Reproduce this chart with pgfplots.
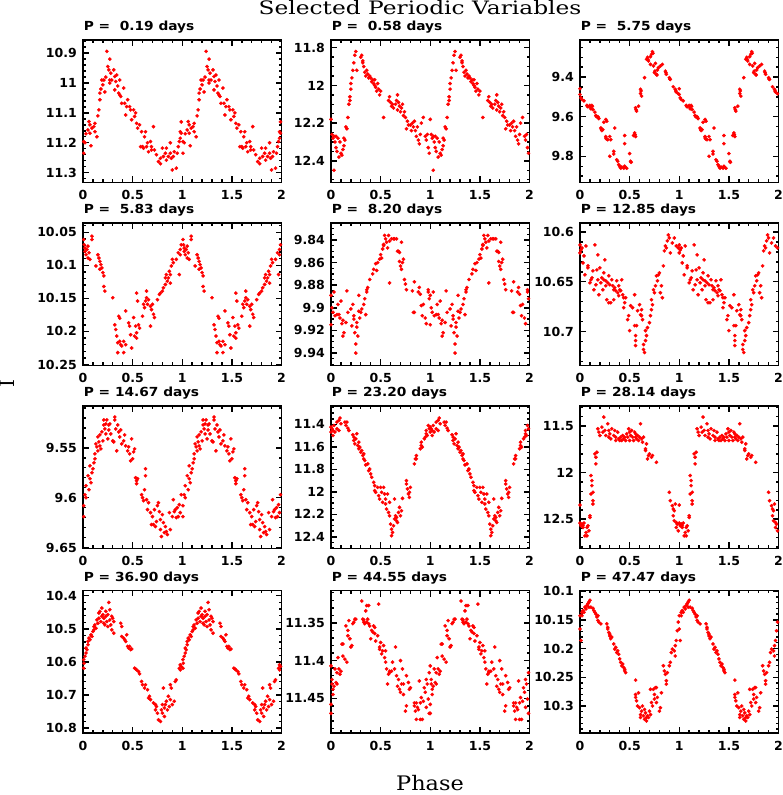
\documentclass[border=0pt]{standalone}
\usepackage{pgfplots}
\pgfplotsset{compat=1.18}
\usepackage{pgfplotstable}
\usepackage{fontspec}
\newfontfamily\dvs{DejaVu Sans}
\newfontfamily\dvserif{DejaVu Serif}
\newcommand\tlf{\dvs\bfseries\fontsize{12.5}{14}\selectfont}

\pgfplotsset{panel/.style={
  scale only axis, width=198.5pt, height=142.5pt, anchor=south west,
  xmin=0, xmax=2, y dir=reverse, scaled ticks=false,
  xtick={0,0.5,1,1.5,2}, minor xtick={0,0.1,...,2},
  tick align=inside, major tick length=6pt, minor tick length=3pt,
  line width=1.7pt,
  axis line style={line width=1.7pt},
  major tick style={line width=1.4pt,black}, minor tick style={line width=1.4pt,black},
  /pgf/number format/assume math mode=true,
  tick label style={font=\tlf},
  xticklabel style={yshift=-4pt},
  yticklabel style={xshift=-2pt},
  title style={at={(0,1)}, anchor=base west, yshift=3pt, inner sep=0pt, font=\tlf},
  clip=true,
},
dots/.style={only marks, mark=*, mark size=1.7pt, color=red, line width=0.3pt, mark options={fill=red,draw=red,line width=0.3pt}}}

\pgfplotstableread{
x y
0.007 11.196
0.007 11.235
0.02 11.20
0.03 11.17
0.05 11.157
0.06 11.129
0.07 11.14
0.07 11.168
0.08 11.21
0.09 11.151
0.11 11.146
0.12 11.163
0.12 11.135
0.14 11.18
0.15 11.11
0.16 11.09
0.17 11.056
0.17 11.034
0.18 11.02
0.19 10.99
0.20 11.006
0.21 10.99
0.22 11.03
0.23 10.98
0.24 10.894
0.25 10.945
0.26 10.956
0.27 10.99
0.27 10.92
0.27 11.0
0.28 10.967
0.29 10.99
0.31 10.956
0.32 10.978
0.32 11.023
0.33 10.995
0.34 10.973
0.35 11.01
0.36 11.034
0.37 10.99
0.37 11.04
0.38 11.045
0.39 11.068
0.41 11.017
0.42 11.068
0.43 11.107
0.44 11.079
0.45 11.056
0.47 11.079
0.48 11.09
0.49 11.123
0.51 11.09
0.52 11.112
0.53 11.10
0.54 11.135
0.55 11.151
0.57 11.14
0.58 11.213
0.59 11.163
0.60 11.213
0.61 11.218
0.62 11.18
0.63 11.163
0.64 11.213
0.65 11.20
0.66 11.23
0.68 11.196
0.69 11.213
0.69 11.224
0.71 11.146
0.72 11.224
0.74 11.24
0.76 11.263
0.78 11.252
0.78 11.27
0.80 11.218
0.81 11.246
0.83 11.235
0.84 11.258
0.84 11.218
0.86 11.246
0.88 11.20
0.88 11.235
0.89 11.252
0.90 11.291
0.91 11.246
0.92 11.23
0.94 11.285
0.95 11.235
0.96 11.213
0.97 11.196
0.98 11.185
0.98 11.163
0.99 11.168
0.99 11.13
}\tA

\pgfplotstableread{
x y
0.00 12.18
0.01 12.26
0.02 12.28
0.03 12.45
0.03 12.27
0.04 12.30
0.05 12.33
0.05 12.27
0.06 12.35
0.07 12.28
0.08 12.38
0.09 12.30
0.10 12.36
0.11 12.37
0.12 12.34
0.13 12.32
0.13 12.28
0.14 12.29
0.15 12.22
0.16 12.23
0.17 12.17
0.18 12.10
0.19 12.08
0.19 12.06
0.20 12.02
0.20 11.99
0.21 11.96
0.22 11.92
0.23 11.88
0.24 11.84
0.25 11.82
0.26 11.92
0.30 11.85
0.31 11.84
0.32 11.87
0.32 11.88
0.33 11.90
0.34 11.93
0.35 11.95
0.36 11.92
0.37 11.94
0.38 11.96
0.39 11.95
0.40 11.96
0.41 11.98
0.42 11.97
0.43 11.99
0.44 12.00
0.44 11.97
0.45 12.01
0.46 12.03
0.47 11.99
0.48 12.02
0.49 12.05
0.50 12.03
0.53 12.17
0.58 12.08
0.59 12.06
0.60 12.09
0.61 12.11
0.62 12.10
0.63 12.12
0.65 12.10
0.66 12.08
0.67 12.05
0.67 12.13
0.68 12.09
0.69 12.11
0.70 12.14
0.71 12.12
0.72 12.10
0.73 12.16
0.74 12.14
0.75 12.17
0.76 12.23
0.77 12.19
0.78 12.21
0.80 12.21
0.81 12.24
0.82 12.20
0.83 12.22
0.84 12.19
0.85 12.24
0.86 12.27
0.87 12.22
0.88 12.29
0.89 12.31
0.90 12.26
0.91 12.20
0.93 12.17
0.95 12.27
0.96 12.29
0.97 12.26
0.98 12.33
0.99 12.36
}\tB

\pgfplotstableread{
x y
0.00 9.459
0.00 9.488
0.01 9.505
0.02 9.513
0.04 9.52
0.07 9.543
0.075 9.548
0.08 9.55
0.10 9.543
0.105 9.55
0.11 9.56
0.12 9.543
0.125 9.548
0.13 9.564
0.15 9.577
0.16 9.594
0.165 9.60
0.18 9.60
0.185 9.606
0.19 9.61
0.21 9.657
0.215 9.663
0.22 9.67
0.23 9.665
0.24 9.628
0.26 9.614
0.27 9.623
0.26 9.70
0.265 9.712
0.26 9.707
0.28 9.716
0.30 9.70
0.31 9.716
0.30 9.80
0.34 9.775
0.35 9.657
0.34 9.788
0.37 9.817
0.38 9.825
0.39 9.842
0.40 9.85
0.405 9.855
0.41 9.86
0.42 9.854
0.44 9.86
0.45 9.695
0.45 9.736
0.45 9.85
0.455 9.855
0.47 9.86
0.50 9.786
0.51 9.825
0.515 9.83
0.54 9.695
0.55 9.682
0.555 9.69
0.56 9.70
0.56 9.555
0.565 9.565
0.57 9.572
0.59 9.547
0.61 9.483
0.615 9.47
0.61 9.462
0.62 9.496
0.65 9.403
0.67 9.31
0.68 9.30
0.685 9.31
0.69 9.319
0.71 9.297
0.71 9.336
0.72 9.285
0.73 9.272
0.735 9.28
0.74 9.344
0.75 9.378
0.755 9.37
0.76 9.331
0.77 9.386
0.775 9.39
0.78 9.364
0.79 9.353
0.81 9.344
0.83 9.336
0.86 9.37
0.865 9.378
0.87 9.386
0.90 9.403
0.905 9.41
0.91 9.412
0.94 9.449
0.96 9.462
0.965 9.47
0.97 9.476
0.99 9.484
}\tC

\pgfplotstableread{
x y
0.007 10.061
0.013 10.069
0.02 10.079
0.02 10.074
0.03 10.084
0.04 10.076
0.05 10.089
0.05 10.071
0.06 10.081
0.07 10.091
0.09 10.056
0.09 10.061
0.13 10.101
0.15 10.084
0.16 10.089
0.17 10.094
0.17 10.106
0.18 10.099
0.19 10.104
0.20 10.111
0.21 10.116
0.21 10.132
0.22 10.139
0.30 10.149
0.36 10.177
0.32 10.19
0.33 10.197
0.34 10.207
0.35 10.217
0.35 10.232
0.37 10.215
0.37 10.18
0.38 10.22
0.39 10.222
0.41 10.232
0.41 10.215
0.43 10.22
0.43 10.169
0.46 10.187
0.47 10.192
0.48 10.205
0.49 10.225
0.51 10.179
0.52 10.207
0.53 10.192
0.54 10.202
0.54 10.21
0.56 10.19
0.57 10.195
0.54 10.142
0.55 10.154
0.60 10.177
0.61 10.159
0.62 10.164
0.63 10.154
0.64 10.149
0.64 10.139
0.65 10.159
0.66 10.152
0.68 10.162
0.68 10.192
0.69 10.167
0.70 10.159
0.71 10.174
0.72 10.179
0.75 10.152
0.77 10.144
0.78 10.142
0.80 10.139
0.81 10.134
0.83 10.129
0.83 10.119
0.84 10.114
0.85 10.124
0.86 10.119
0.87 10.109
0.88 10.127
0.88 10.114
0.89 10.101
0.90 10.091
0.91 10.096
0.94 10.091
0.96 10.081
0.97 10.114
0.98 10.084
0.98 10.076
0.99 10.069
}\tD

\pgfplotstableread{
x y
0.00 9.889
0.00 9.915
0.01 9.90
0.02 9.904
0.03 9.886
0.04 9.907
0.06 9.906
0.07 9.897
0.08 9.906
0.09 9.909
0.10 9.894
0.11 9.914
0.12 9.925
0.12 9.911
0.13 9.922
0.15 9.913
0.16 9.885
0.17 9.904
0.20 9.901
0.21 9.916
0.23 9.907
0.22 9.897
0.23 9.91
0.24 9.922
0.25 9.932
0.25 9.94
0.26 9.913
0.26 9.917
0.27 9.925
0.28 9.889
0.28 9.903
0.29 9.909
0.30 9.904
0.31 9.901
0.33 9.897
0.34 9.892
0.35 9.906
0.36 9.884
0.36 9.886
0.37 9.882
0.39 9.875
0.42 9.87
0.43 9.866
0.45 9.861
0.46 9.867
0.47 9.86
0.49 9.857
0.50 9.853
0.51 9.856
0.52 9.848
0.53 9.845
0.53 9.844
0.54 9.836
0.55 9.839
0.56 9.842
0.57 9.847
0.58 9.836
0.59 9.878
0.59 9.841
0.61 9.839
0.63 9.839
0.64 9.839
0.66 9.839
0.67 9.85
0.68 9.85
0.69 9.851
0.69 9.859
0.70 9.863
0.71 9.866
0.71 9.842
0.72 9.86
0.73 9.857
0.74 9.875
0.75 9.879
0.76 9.884
0.84 9.877
0.82 9.885
0.83 9.904
0.84 9.904
0.88 9.886
0.89 9.882
0.90 9.888
0.91 9.898
0.92 9.907
0.93 9.897
0.95 9.909
0.96 9.914
0.98 9.884
0.98 9.886
0.99 9.892
}\tE

\pgfplotstableread{
x y
0.00 10.613
0.00 10.621
0.01 10.618
0.02 10.616
0.03 10.631
0.04 10.624
0.05 10.643
0.06 10.614
0.08 10.634
0.08 10.636
0.10 10.651
0.11 10.648
0.12 10.646
0.13 10.639
0.14 10.658
0.15 10.613
0.16 10.653
0.17 10.638
0.18 10.648
0.18 10.623
0.19 10.663
0.20 10.636
0.21 10.651
0.22 10.646
0.23 10.658
0.24 10.648
0.24 10.641
0.25 10.628
0.26 10.654
0.26 10.649
0.27 10.668
0.28 10.651
0.29 10.671
0.29 10.644
0.30 10.653
0.31 10.671
0.32 10.648
0.33 10.654
0.34 10.658
0.34 10.668
0.35 10.656
0.36 10.659
0.37 10.649
0.38 10.661
0.39 10.654
0.39 10.664
0.40 10.658
0.41 10.659
0.42 10.648
0.43 10.663
0.44 10.666
0.44 10.676
0.45 10.671
0.46 10.666
0.48 10.688
0.49 10.684
0.50 10.699
0.51 10.674
0.53 10.676
0.55 10.694
0.55 10.663
0.56 10.704
0.56 10.714
0.56 10.709
0.57 10.694
0.58 10.679
0.60 10.673
0.61 10.683
0.62 10.678
0.62 10.684
0.63 10.688
0.64 10.713
0.64 10.718
0.65 10.721
0.66 10.709
0.66 10.699
0.67 10.704
0.68 10.696
0.70 10.691
0.71 10.684
0.72 10.678
0.72 10.668
0.73 10.673
0.74 10.658
0.75 10.661
0.76 10.654
0.77 10.644
0.78 10.649
0.79 10.643
0.80 10.641
0.81 10.661
0.82 10.654
0.83 10.666
0.84 10.634
0.85 10.619
0.86 10.614
0.87 10.616
0.88 10.609
0.89 10.603
0.90 10.606
0.91 10.621
0.93 10.611
0.95 10.606
0.97 10.614
0.99 10.616
}\tF

\pgfplotstableread{
x y
0.007 9.608
0.007 9.619
0.02 9.597
0.03 9.60
0.03 9.588
0.05 9.578
0.06 9.592
0.07 9.581
0.07 9.568
0.08 9.585
0.09 9.575
0.10 9.571
0.11 9.565
0.12 9.561
0.12 9.556
0.13 9.546
0.14 9.549
0.15 9.539
0.15 9.553
0.16 9.544
0.17 9.548
0.17 9.537
0.18 9.551
0.19 9.534
0.20 9.543
0.21 9.527
0.21 9.522
0.22 9.531
0.23 9.536
0.23 9.526
0.24 9.522
0.25 9.541
0.26 9.527
0.26 9.532
0.27 9.526
0.28 9.536
0.30 9.543
0.31 9.544
0.32 9.519
0.32 9.522
0.33 9.531
0.34 9.553
0.35 9.527
0.36 9.534
0.37 9.539
0.38 9.532
0.39 9.546
0.41 9.543
0.42 9.537
0.43 9.548
0.45 9.553
0.46 9.549
0.47 9.556
0.48 9.563
0.49 9.541
0.50 9.561
0.51 9.554
0.52 9.551
0.53 9.58
0.54 9.583
0.54 9.586
0.55 9.581
0.59 9.597
0.60 9.60
0.61 9.603
0.62 9.592
0.63 9.571
0.63 9.578
0.64 9.602
0.65 9.612
0.66 9.605
0.68 9.615
0.69 9.627
0.70 9.619
0.71 9.627
0.72 9.612
0.73 9.629
0.74 9.624
0.75 9.608
0.76 9.605
0.77 9.614
0.78 9.622
0.78 9.632
0.79 9.639
0.80 9.617
0.81 9.625
0.82 9.635
0.83 9.629
0.84 9.634
0.85 9.637
0.87 9.615
0.88 9.632
0.90 9.619
0.92 9.614
0.91 9.602
0.93 9.612
0.94 9.62
0.95 9.61
0.96 9.619
0.97 9.607
0.98 9.615
0.99 9.597
}\tG

\pgfplotstableread{
x y
0.00 11.424
0.00 11.468
0.01 11.439
0.02 11.498
0.02 11.454
0.03 11.409
0.04 11.468
0.06 11.379
0.06 11.439
0.08 11.454
0.08 11.364
0.09 11.343
0.10 11.394
0.14 11.379
0.15 11.409
0.16 11.379
0.17 11.433
0.18 11.454
0.22 11.492
0.23 11.513
0.23 11.543
0.24 11.573
0.25 11.528
0.26 11.483
0.27 11.588
0.28 11.617
0.28 11.558
0.29 11.602
0.30 11.647
0.31 11.632
0.32 11.677
0.33 11.707
0.33 11.662
0.34 11.721
0.35 11.76
0.37 11.751
0.38 11.811
0.39 11.796
0.40 11.84
0.41 11.87
0.43 11.915
0.44 11.945
0.44 11.989
0.45 12.004
0.47 11.96
0.48 12.034
0.49 12.064
0.50 11.96
0.51 12.004
0.52 12.093
0.53 11.96
0.54 12.019
0.55 12.064
0.55 12.108
0.56 12.153
0.57 12.019
0.58 12.183
0.59 12.093
0.59 12.213
0.60 12.287
0.61 12.332
0.61 12.39
0.62 12.361
0.63 12.302
0.64 12.242
0.64 12.064
0.65 12.213
0.66 12.257
0.66 12.227
0.67 12.272
0.68 12.183
0.69 12.138
0.70 12.213
0.71 12.168
0.72 12.058
0.76 11.90
0.76 11.93
0.77 11.974
0.78 12.019
0.79 12.004
0.79 12.049
0.80 11.96
0.84 11.751
0.85 11.707
0.86 11.707
0.86 11.677
0.90 11.617
0.91 11.588
0.91 11.558
0.92 11.602
0.94 11.528
0.95 11.513
0.96 11.483
0.96 11.454
0.97 11.498
0.98 11.409
0.99 11.439
}\tH

\pgfplotstableread{
x y
0.00 12.349
0.00 12.543
0.01 12.572
0.02 12.554
0.03 12.59
0.03 12.572
0.04 12.543
0.05 12.68
0.06 12.644
0.07 12.59
0.07 12.68
0.08 12.572
0.09 12.626
0.10 12.482
0.10 12.464
0.11 12.23
0.11 12.032
0.12 12.086
0.12 12.14
0.13 12.212
0.13 12.302
0.13 12.338
0.15 11.799
0.16 11.835
0.16 11.906
0.17 11.781
0.18 11.529
0.19 11.565
0.20 11.601
0.22 11.511
0.23 11.565
0.24 11.403
0.25 11.547
0.26 11.601
0.28 11.475
0.29 11.619
0.29 11.547
0.30 11.583
0.31 11.637
0.32 11.529
0.34 11.601
0.35 11.547
0.36 11.655
0.36 11.619
0.38 11.565
0.39 11.637
0.40 11.655
0.41 11.619
0.42 11.655
0.43 11.601
0.44 11.637
0.45 11.619
0.46 11.655
0.47 11.583
0.48 11.619
0.49 11.529
0.50 11.565
0.50 11.655
0.51 11.601
0.52 11.547
0.53 11.619
0.54 11.655
0.55 11.565
0.56 11.619
0.56 11.583
0.57 11.637
0.58 11.601
0.59 11.655
0.60 11.619
0.61 11.475
0.62 11.637
0.63 11.673
0.64 11.619
0.66 11.745
0.66 11.763
0.67 11.691
0.68 11.853
0.69 11.817
0.70 11.799
0.72 11.835
0.73 11.817
0.77 11.889
0.90 12.212
0.91 12.302
0.93 12.356
0.94 12.392
0.95 12.41
0.96 12.338
0.94 12.464
0.95 12.518
0.97 12.536
0.97 12.59
0.98 12.554
0.99 12.626
}\tI

\pgfplotstableread{
x y
0.007 10.593
0.007 10.619
0.01 10.604
0.02 10.583
0.03 10.573
0.03 10.558
0.04 10.563
0.05 10.548
0.05 10.538
0.06 10.528
0.07 10.533
0.08 10.518
0.09 10.523
0.10 10.508
0.11 10.493
0.11 10.503
0.12 10.488
0.13 10.498
0.14 10.473
0.15 10.483
0.16 10.452
0.16 10.468
0.17 10.447
0.18 10.478
0.19 10.462
0.19 10.437
0.20 10.457
0.21 10.483
0.21 10.468
0.22 10.488
0.23 10.447
0.23 10.462
0.24 10.478
0.25 10.493
0.25 10.457
0.26 10.42
0.27 10.473
0.27 10.442
0.28 10.488
0.29 10.462
0.29 10.503
0.30 10.468
0.31 10.478
0.31 10.513
0.38 10.483
0.39 10.493
0.39 10.523
0.41 10.528
0.42 10.533
0.43 10.538
0.44 10.518
0.45 10.553
0.46 10.558
0.47 10.553
0.48 10.563
0.49 10.561
0.52 10.619
0.53 10.621
0.54 10.624
0.56 10.629
0.57 10.636
0.59 10.659
0.60 10.669
0.62 10.679
0.63 10.669
0.65 10.684
0.66 10.709
0.67 10.704
0.68 10.714
0.71 10.724
0.73 10.729
0.73 10.745
0.74 10.735
0.75 10.755
0.76 10.775
0.78 10.78
0.79 10.745
0.80 10.729
0.80 10.755
0.81 10.679
0.82 10.739
0.82 10.765
0.83 10.729
0.84 10.719
0.85 10.745
0.86 10.704
0.87 10.735
0.88 10.714
0.88 10.669
0.89 10.679
0.90 10.729
0.92 10.719
0.93 10.659
0.94 10.654
0.97 10.619
0.98 10.609
0.98 10.624
0.99 10.614
}\tJ

\pgfplotstableread{
x y
0.00 11.407
0.00 11.458
0.00 11.47
0.01 11.425
0.01 11.431
0.02 11.438
0.02 11.445
0.03 11.434
0.04 11.411
0.05 11.429
0.06 11.431
0.06 11.416
0.07 11.396
0.08 11.411
0.09 11.418
0.10 11.414
0.11 11.378
0.12 11.394
0.12 11.378
0.14 11.398
0.15 11.354
0.16 11.402
0.17 11.36
0.17 11.367
0.18 11.347
0.19 11.371
0.20 11.382
0.21 11.38
0.22 11.351
0.23 11.349
0.24 11.345
0.25 11.345
0.31 11.321
0.32 11.345
0.33 11.349
0.33 11.346
0.34 11.351
0.35 11.334
0.36 11.327
0.36 11.349
0.37 11.345
0.38 11.351
0.38 11.327
0.39 11.354
0.40 11.371
0.41 11.36
0.42 11.362
0.43 11.354
0.44 11.364
0.44 11.356
0.45 11.374
0.47 11.367
0.48 11.325
0.49 11.382
0.49 11.385
0.50 11.376
0.51 11.391
0.52 11.387
0.53 11.38
0.54 11.396
0.55 11.402
0.55 11.387
0.56 11.411
0.57 11.431
0.58 11.418
0.59 11.416
0.59 11.414
0.61 11.414
0.62 11.402
0.64 11.411
0.65 11.382
0.66 11.42
0.67 11.434
0.68 11.425
0.69 11.438
0.70 11.442
0.70 11.40
0.71 11.431
0.72 11.411
0.73 11.445
0.73 11.431
0.75 11.467
0.76 11.42
0.76 11.46
0.78 11.429
0.79 11.438
0.80 11.436
0.84 11.456
0.84 11.46
0.85 11.467
0.86 11.456
0.86 11.478
0.87 11.462
0.88 11.465
0.89 11.427
0.90 11.478
0.90 11.456
0.91 11.449
0.92 11.478
0.93 11.454
0.94 11.436
0.95 11.442
0.96 11.425
0.96 11.462
0.97 11.431
0.98 11.451
0.99 11.47
0.99 11.416
}\tK

\pgfplotstableread{
x y
0.00 10.143
0.00 10.166
0.01 10.186
0.02 10.137
0.02 10.143
0.03 10.134
0.04 10.137
0.05 10.128
0.06 10.131
0.07 10.125
0.08 10.122
0.09 10.128
0.09 10.119
0.10 10.116
0.11 10.128
0.13 10.13
0.14 10.134
0.15 10.137
0.16 10.14
0.17 10.145
0.18 10.143
0.18 10.151
0.19 10.154
0.21 10.157
0.27 10.157
0.28 10.166
0.28 10.163
0.29 10.172
0.30 10.178
0.30 10.175
0.31 10.183
0.32 10.18
0.34 10.192
0.35 10.201
0.36 10.198
0.37 10.207
0.38 10.204
0.39 10.21
0.40 10.218
0.41 10.224
0.42 10.23
0.43 10.227
0.44 10.233
0.45 10.236
0.45 10.239
0.46 10.242
0.56 10.255
0.56 10.28
0.56 10.285
0.57 10.291
0.58 10.30
0.59 10.277
0.60 10.303
0.61 10.315
0.61 10.32
0.62 10.309
0.63 10.30
0.64 10.317
0.65 10.306
0.65 10.323
0.66 10.312
0.67 10.32
0.67 10.326
0.68 10.317
0.69 10.32
0.70 10.309
0.71 10.315
0.71 10.271
0.72 10.294
0.73 10.30
0.74 10.271
0.75 10.288
0.75 10.28
0.76 10.268
0.77 10.268
0.77 10.294
0.78 10.285
0.80 10.309
0.81 10.303
0.82 10.277
0.84 10.23
0.85 10.239
0.86 10.245
0.87 10.262
0.87 10.256
0.88 10.242
0.90 10.23
0.91 10.224
0.92 10.207
0.93 10.201
0.95 10.204
0.96 10.213
0.96 10.195
0.97 10.186
0.98 10.169
0.99 10.154
}\tL

\newcommand\panel[6]{%
\begin{axis}[panel, at={(#1)}, ymin=#2, ymax=#3, #4, title={\scalebox{1.1}[1]{#5}}]
\addplot[dots] table {#6};
\addplot[dots] table[x expr=\thisrowno{0}+1, y index=1] {#6};
\end{axis}}

\begin{document}
\begin{tikzpicture}
\useasboundingbox (0,0) rectangle (782pt,795pt);
\panel{83pt,612.5pt}{10.856}{11.333}{ytick={10.9,11,11.1,11.2,11.3}, minor ytick={10.86,10.88,...,11.33}}{P = \ 0.19 days}{\tA}
\panel{331pt,612.5pt}{11.759}{12.515}{ytick={11.8,12,12.2,12.4}, minor ytick={11.8,11.85,...,12.51}}{P = \ 0.58 days}{\tB}
\panel{580pt,612.5pt}{9.213}{9.932}{ytick={9.4,9.6,9.8}, minor ytick={9.25,9.3,...,9.93}}{P = \ 5.75 days}{\tC}
\panel{83pt,429.5pt}{10.036}{10.2515}{ytick={10.05,10.1,10.15,10.2,10.25}, minor ytick={10.04,10.05,...,10.251}}{P = \ 5.83 days}{\tD}
\panel{331pt,429.5pt}{9.825}{9.951}{ytick={9.84,9.86,9.88,9.9,9.92,9.94}, minor ytick={9.83,9.835,...,9.951}}{P = \ 8.20 days}{\tE}
\panel{580pt,429.5pt}{10.591}{10.734}{ytick={10.6,10.65,10.7}, minor ytick={10.6,10.61,...,10.731}}{P = 12.85 days}{\tF}
\panel{83pt,246.5pt}{9.508}{9.651}{ytick={9.55,9.6,9.65}, minor ytick={9.51,9.52,...,9.651}}{P = 14.67 days}{\tG}
\panel{331pt,246.5pt}{11.236}{12.504}{ytick={11.4,11.6,11.8,12,12.2,12.4}, minor ytick={11.25,11.3,...,12.5}}{P = 23.20 days}{\tH}
\panel{580pt,246.5pt}{11.284}{12.816}{ytick={11.5,12,12.5}, minor ytick={11.3,11.4,...,12.81}}{P = 28.14 days}{\tI}
\panel{83pt,62pt}{10.384}{10.815}{ytick={10.4,10.5,10.6,10.7,10.8}, minor ytick={10.4,10.42,...,10.81}}{P = 36.90 days}{\tJ}
\panel{331pt,62pt}{11.307}{11.496}{ytick={11.35,11.4,11.45}, minor ytick={11.31,11.32,...,11.491}}{P = 44.55 days}{\tK}
\panel{580pt,62pt}{10.099}{10.347}{ytick={10.1,10.15,10.2,10.25,10.3}, minor ytick={10.1,10.11,...,10.341}}{P = 47.47 days}{\tL}
\node[font=\dvserif\fontsize{18.5}{20}\selectfont, anchor=base, inner sep=0pt] at (420pt,780pt) {\scalebox{1.26}[1]{Selected Periodic Variables}};
\node[font=\dvserif\fontsize{20}{22}\selectfont, anchor=base, inner sep=0pt] at (430pt,5pt) {\scalebox{1.12}[1]{Phase}};
\node[font=\dvserif\fontsize{20}{22}\selectfont, rotate=90, inner sep=0pt] at (7.5pt,411pt) {I};
\end{tikzpicture}
\end{document}
